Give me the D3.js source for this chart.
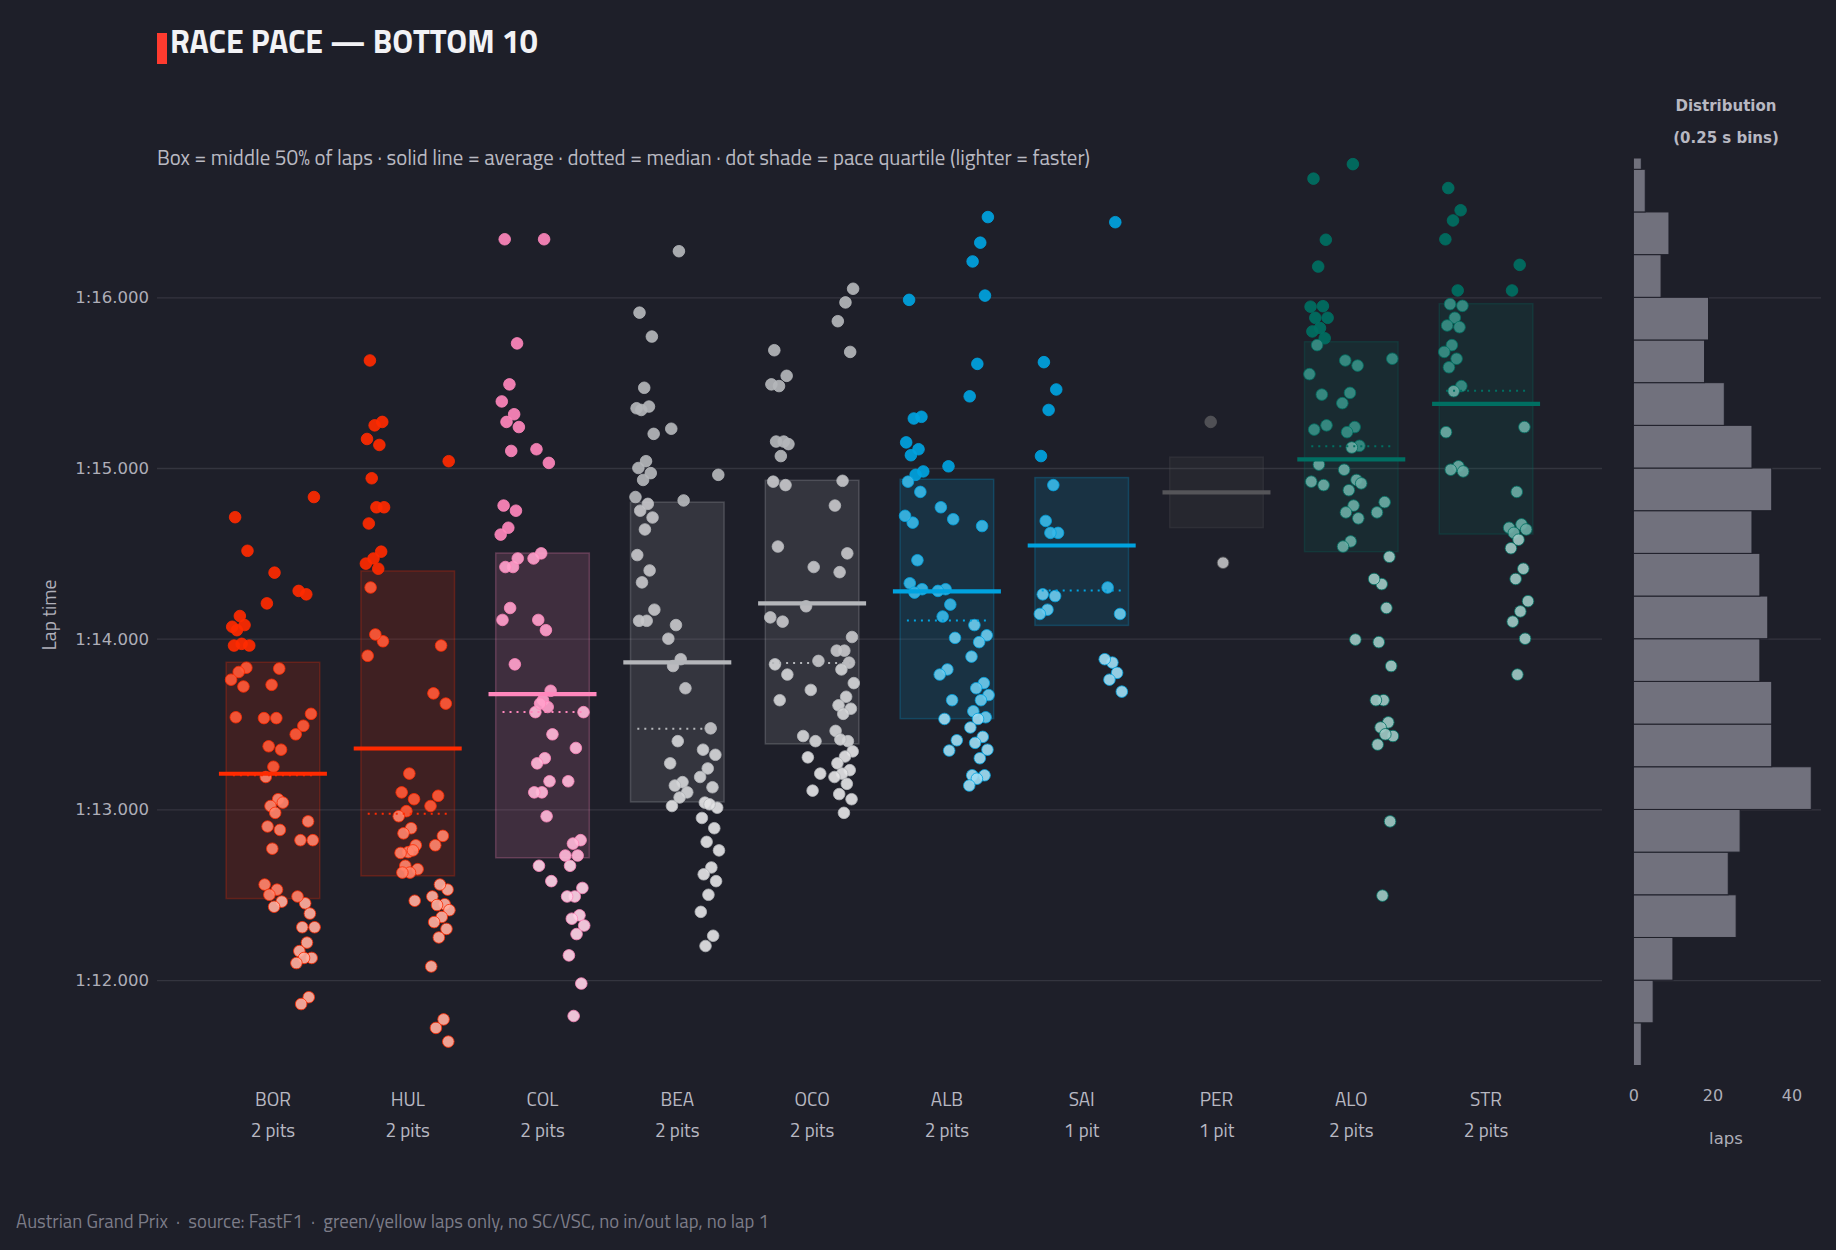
<!DOCTYPE html>
<html>
<head>
<meta charset="utf-8">
<script src="https://cdn.jsdelivr.net/npm/d3@7"></script>
<style>
  body { margin: 0; background: #1e1f29; }
  svg { display: block; }
  .cond { font-family: "Titillium Web", "Liberation Sans Narrow", "Roboto Condensed", Roboto, sans-serif; }
  .wide { font-family: "DejaVu Sans", Verdana, sans-serif; }
</style>
</head>
<body>
<svg id="chart" width="1836" height="1250"></svg>
<script>
// ---- data (lap times in seconds) ----

var drivers = ["BOR", "HUL", "COL", "BEA", "OCO", "ALB", "SAI", "PER", "ALO", "STR"];
var pitStops = [2, 2, 2, 2, 2, 2, 1, 1, 2, 2];
var teamColors = ["#ff2a00", "#ff2a00", "#ff87bc", "#b4b6ba", "#b4b6ba",
                  "#00a3e0", "#00a3e0", "#555559", "#006f62", "#006f62"];

// box = q1..q3, solid = mean, dotted = median
var lapQ1 =     [72.478, 72.611, 72.717, 73.044, 73.384, 73.532, 74.078, 74.651, 74.510, 74.613];
var lapQ3 =     [73.862, 74.397, 74.502, 74.800, 74.928, 74.934, 74.944, 75.064, 75.740, 75.963];
var lapMean =   [73.209, 73.357, 73.675, 73.861, 74.207, 74.277, 74.546, 74.857, 75.051, 75.376];
var lapMedian = [73.200, 72.975, 73.571, 73.472, 73.858, 74.107, 74.282, 74.857, 75.128, 75.452];

// one array per stint
var lapsBOR = [
  [74.712, 74.515, 74.133, 74.07, 74.08, 74.05, 73.96, 73.97, 73.96, 73.83, 73.805, 73.76, 73.72, 73.54],
  [74.387, 74.207, 73.825, 73.73, 73.535, 73.535, 73.37, 73.35, 73.25, 73.19, 73.06, 73.02, 73.04, 72.98,
   72.90, 72.88, 72.77, 72.56, 72.53, 72.50, 72.46, 72.43],
  [74.83, 74.26, 74.28, 73.56, 73.49, 73.44, 72.93, 72.82, 72.82, 72.45, 72.49, 72.39, 72.31, 72.31,
   72.22, 72.17, 72.13, 72.13, 72.10, 71.90, 71.86]
];
var lapsHUL = [
  [75.63, 75.27, 75.25, 75.17, 75.135, 74.94, 74.77, 74.77, 74.675, 74.51, 74.47, 74.44, 74.41, 74.30,
   73.985, 74.025, 73.90],
  [73.21, 73.10, 73.06, 72.99, 72.96, 72.89, 72.86, 72.79, 72.75, 72.745, 72.76, 72.67, 72.65, 72.63,
   72.63, 72.465],
  [75.04, 73.96, 73.68, 73.62, 73.08, 73.02, 72.845, 72.79, 72.53, 72.56, 72.49, 72.445, 72.44, 72.41,
   72.37, 72.34, 72.30, 72.25, 72.08, 71.77, 71.72, 71.64]
];
var lapsCOL = [
  [76.34, 75.73, 75.49, 75.39, 75.315, 75.27, 75.24, 75.10, 74.78, 74.75, 74.65, 74.61, 74.42, 74.42,
   74.47, 74.18, 74.11, 73.85],
  [76.34, 75.11, 75.03, 74.50, 74.47, 74.05, 74.11, 73.695, 73.64, 73.57, 73.60, 73.62, 73.44, 73.30,
   73.27, 73.165, 73.10, 73.10, 72.96, 72.67, 72.58],
  [73.57, 73.36, 73.165, 72.82, 72.80, 72.73, 72.73, 72.67, 72.54, 72.49, 72.49, 72.38, 72.36, 72.32,
   72.27, 72.145, 71.98, 71.79]
];
var lapsBEA = [
  [75.91, 75.77, 75.47, 75.35, 75.36, 75.34, 75.20, 75.04, 75.00, 74.97, 74.93, 74.83, 74.79, 74.75,
   74.71, 74.64, 74.49, 74.40, 74.33, 74.17, 74.105, 74.105],
  [76.27, 75.23, 74.81, 74.08, 74.00, 73.88, 73.84, 73.71, 73.40, 73.27, 73.16, 73.14, 73.10, 73.07, 73.02],
  [74.96, 73.475, 73.35, 73.32, 73.24, 73.19, 73.13, 73.04, 73.01, 73.03, 72.95, 72.89, 72.81, 72.76,
   72.66, 72.62, 72.58, 72.50, 72.40, 72.26, 72.20]
];
var lapsOCO = [
  [75.69, 75.54, 75.48, 75.49, 75.155, 75.155, 75.14, 75.07, 74.92, 74.90, 74.54, 74.125, 74.10, 73.85,
   73.79, 73.64],
  [74.42, 74.19, 73.87, 73.70, 73.43, 73.40, 73.305, 73.21, 73.11],
  [76.05, 75.97, 75.86, 75.68, 74.925, 74.78, 74.50, 74.39, 74.01, 73.93, 73.93, 73.86, 73.82, 73.74,
   73.66, 73.61, 73.59, 73.56, 73.46, 73.40, 73.41, 73.34, 73.31, 73.27, 73.23, 73.21, 73.19, 73.15,
   73.09, 73.06, 72.98]
];
var lapsALB = [
  [75.985, 75.30, 75.29, 75.15, 75.11, 75.075, 74.98, 74.96, 74.92, 74.86, 74.68, 74.72, 74.46, 74.325,
   74.29, 74.27],
  [75.01, 74.77, 74.70, 74.29, 74.28, 74.20, 74.13, 74.005, 73.82, 73.79, 73.64, 73.53, 73.405, 73.345],
  [76.47, 76.32, 76.21, 76.01, 75.61, 75.42, 74.66, 74.08, 74.02, 73.98, 73.895, 73.74, 73.71, 73.67,
   73.64, 73.575, 73.54, 73.53, 73.48, 73.425, 73.39, 73.35, 73.30, 73.20, 73.20, 73.18, 73.14]
];
var lapsSAI = [
  [75.62, 75.46, 75.34, 75.07, 74.90, 74.69, 74.62, 74.62, 74.26, 74.25, 74.17, 74.145],
  [76.44, 74.30, 74.145, 73.86, 73.88, 73.80, 73.76, 73.69]
];
var lapsPER = [
  [75.27, 74.445]
];
var lapsALO = [
  [76.695, 76.337, 76.18, 75.945, 75.948, 75.88, 75.88, 75.82, 75.80, 75.76, 75.72, 75.55, 75.43,
   75.225, 75.25, 75.02, 74.92, 74.90],
  [76.78, 75.63, 75.60, 75.44, 75.38, 75.24, 75.21, 75.13, 75.12, 74.99, 74.93, 74.87, 74.91, 74.78,
   74.74, 74.705, 74.57, 74.54, 73.995],
  [75.64, 74.80, 74.74, 74.48, 74.32, 74.35, 74.18, 73.98, 73.84, 73.64, 73.64, 73.51, 73.48, 73.43,
   73.44, 73.38, 72.93, 72.495]
];
var lapsSTR = [
  [76.64, 76.51, 76.45, 76.34, 76.04, 75.96, 75.95, 75.88, 75.835, 75.825, 75.72, 75.68, 75.64, 75.59,
   75.48, 75.45, 75.21, 75.01, 74.99, 74.98],
  [],
  [76.19, 76.04, 75.24, 74.86, 74.65, 74.67, 74.62, 74.64, 74.58, 74.53, 74.41, 74.35, 74.22, 74.16,
   74.10, 74.00, 73.79]
];
var lapTimes = [lapsBOR, lapsHUL, lapsCOL, lapsBEA, lapsOCO, lapsALB, lapsSAI, lapsPER, lapsALO, lapsSTR];

// distribution panel: laps per 0.25 s bin, from 1:11.500 upward
var histStart = 71.5;
var histBinWidth = 0.25;
var histCounts = [2, 5, 10, 26, 24, 27, 45, 35, 35, 32, 34, 32, 30, 35, 30, 23, 18, 19, 7, 9, 3, 2];

var yTickValues = [72, 73, 74, 75, 76];
var histTickValues = [0, 20, 40];

// ---- layout ----

var bg = "#1e1f29",
    gridColor = "#34353f",
    plotLeft = 157, plotRight = 1602,
    plotTop = 158, plotBottom = 1065.5,
    histLeft = 1633.4, histRight = 1821;

var svg = d3.select("#chart");
svg.append("rect").attr("width", 1836).attr("height", 1250).attr("fill", bg);

var y = d3.scaleLinear()
    .domain([71.5, 76.816])
    .range([plotBottom, plotTop]);

var x = d3.scalePoint()
    .domain(drivers)
    .range([plotLeft, plotRight])
    .padding(0.86);

var xh = d3.scaleLinear()
    .domain([0, 40])
    .range([histLeft, histLeft + 158.1]);

function lapFormat(t) {
    var m = Math.floor(t / 60), s = t - m * 60;
    return m + ":" + (s < 10 ? "0" : "") + s.toFixed(3);
}

// title + subtitle
svg.append("rect").attr("x", 157).attr("y", 33).attr("width", 10).attr("height", 31).attr("fill", "#ff3b2f");
svg.append("text").attr("class", "cond")
    .attr("x", 170).attr("y", 53)
    .attr("font-size", 32).attr("font-weight", 700).attr("fill", "#f2f2f5")
    .text("RACE PACE — BOTTOM 10");
svg.append("text").attr("class", "cond")
    .attr("x", 157).attr("y", 165)
    .attr("font-size", 20.85).attr("fill", "#b9b9c2")
    .text("Box = middle 50% of laps · solid line = average · dotted = median · dot shade = pace quartile (lighter = faster)");

// y grid + ticks
var gY = svg.append("g")
    .attr("transform", "translate(" + plotLeft + ",0)")
    .call(d3.axisLeft(y).tickValues(yTickValues).tickSize(-(plotRight - plotLeft)).tickPadding(8).tickFormat(lapFormat));
gY.select(".domain").remove();
gY.selectAll("line").attr("stroke", gridColor).attr("stroke-width", 1.3);
gY.selectAll("text").attr("class", "wide").attr("font-size", 16.5).attr("fill", "#aeaeb8");

svg.append("text").attr("class", "cond")
    .attr("transform", "translate(56,615) rotate(-90)")
    .attr("text-anchor", "middle")
    .attr("font-size", 19.5).attr("fill", "#b0b0ba")
    .text("Lap time");

// ---- per-driver boxes, dots, lines ----

var boxHalf = 46.8, meanHalf = 54, medianHalf = 40,
    stintSpread = 32, jitter = 10;

drivers.forEach(function(d, i) {
    var cx = x(d),
        base = teamColors[i],
        g = svg.append("g");

    g.append("rect")
        .attr("x", cx - boxHalf).attr("width", boxHalf * 2)
        .attr("y", y(lapQ3[i])).attr("height", y(lapQ1[i]) - y(lapQ3[i]))
        .attr("fill", base).attr("fill-opacity", 0.15)
        .attr("stroke", base).attr("stroke-opacity", 0.25).attr("stroke-width", 1.5);

    var stints = lapTimes[i].filter(function(s) { return s.length > 0; });
    var n = stints.length;
    var offset = d3.scaleLinear().domain([0, Math.max(1, n - 1)]).range(n > 1 ? [-stintSpread, stintSpread] : [0, 0]);

    function shade(t) {
        var k = t > lapQ3[i] ? 0 : t > lapMedian[i] ? 0.22 : t > lapQ1[i] ? 0.42 : 0.62;
        return d3.interpolateRgb(base, "#ffffff")(k);
    }

    stints.forEach(function(laps, s) {
        g.selectAll(null)
            .data(laps)
            .enter()
            .append("circle")
            .attr("cx", function(t, j) { return cx + offset(s) + ((j * 0.618034 + s * 0.37 + 0.21) % 1 - 0.5) * 2 * jitter; })
            .attr("cy", function(t) { return y(t); })
            .attr("r", 5.8)
            .attr("fill", shade)
            .attr("fill-opacity", 0.92)
            .attr("stroke", base)
            .attr("stroke-opacity", 0.8)
            .attr("stroke-width", 1);
    });

    g.append("line")
        .attr("x1", cx - medianHalf).attr("x2", cx + medianHalf)
        .attr("y1", y(lapMedian[i])).attr("y2", y(lapMedian[i]))
        .attr("stroke", base).attr("stroke-width", 2)
        .attr("stroke-dasharray", "2,5");

    g.append("line")
        .attr("x1", cx - meanHalf).attr("x2", cx + meanHalf)
        .attr("y1", y(lapMean[i])).attr("y2", y(lapMean[i]))
        .attr("stroke", base).attr("stroke-width", 4.2);

    g.append("text").attr("class", "cond")
        .attr("x", cx).attr("y", 1106)
        .attr("text-anchor", "middle")
        .attr("font-size", 19).attr("fill", "#b8b8c2")
        .text(d);
    g.append("text").attr("class", "cond")
        .attr("x", cx).attr("y", 1137)
        .attr("text-anchor", "middle")
        .attr("font-size", 19).attr("fill", "#b8b8c2")
        .text(pitStops[i] + (pitStops[i] === 1 ? " pit" : " pits"));
});

// ---- distribution panel ----

var gH = svg.append("g")
    .attr("transform", "translate(" + histLeft + ",0)")
    .call(d3.axisLeft(y).tickValues(yTickValues).tickSize(-(histRight - histLeft)).tickFormat(""));
gH.select(".domain").remove();
gH.selectAll("line").attr("stroke", gridColor).attr("stroke-width", 1.3);

svg.append("g").selectAll("rect")
    .data(histCounts)
    .enter()
    .append("rect")
    .attr("x", xh(0))
    .attr("width", function(c) { return xh(c) - xh(0); })
    .attr("y", function(c, k) { return Math.max(plotTop, y(histStart + (k + 1) * histBinWidth)); })
    .attr("height", function(c, k) {
        return y(histStart + k * histBinWidth) - Math.max(plotTop, y(histStart + (k + 1) * histBinWidth));
    })
    .attr("fill", "#71717d")
    .attr("stroke", bg)
    .attr("stroke-width", 1);

var gX = svg.append("g")
    .attr("transform", "translate(0,1090)")
    .call(d3.axisBottom(xh).tickValues(histTickValues).tickSize(0).tickPadding(0));
gX.select(".domain").remove();
gX.selectAll("text").attr("class", "wide").attr("font-size", 16).attr("fill", "#aeaeb8");

svg.append("text").attr("class", "wide")
    .attr("x", 1726).attr("y", 1144).attr("text-anchor", "middle")
    .attr("font-size", 16.5).attr("fill", "#aeaeb8")
    .text("laps");
svg.append("text").attr("class", "wide")
    .attr("x", 1726).attr("y", 111).attr("text-anchor", "middle")
    .attr("font-size", 15).attr("font-weight", 700).attr("fill", "#b8b8c2")
    .text("Distribution");
svg.append("text").attr("class", "wide")
    .attr("x", 1726).attr("y", 143).attr("text-anchor", "middle")
    .attr("font-size", 15).attr("font-weight", 700).attr("fill", "#b8b8c2")
    .text("(0.25 s bins)");

// footer
svg.append("text").attr("class", "cond")
    .attr("x", 16).attr("y", 1228)
    .attr("font-size", 18.7).attr("fill", "#7c7c88")
    .style("white-space", "pre")
    .text("Austrian Grand Prix  ·  source: FastF1  ·  green/yellow laps only, no SC/VSC, no in/out lap, no lap 1");
</script>
</body>
</html>
